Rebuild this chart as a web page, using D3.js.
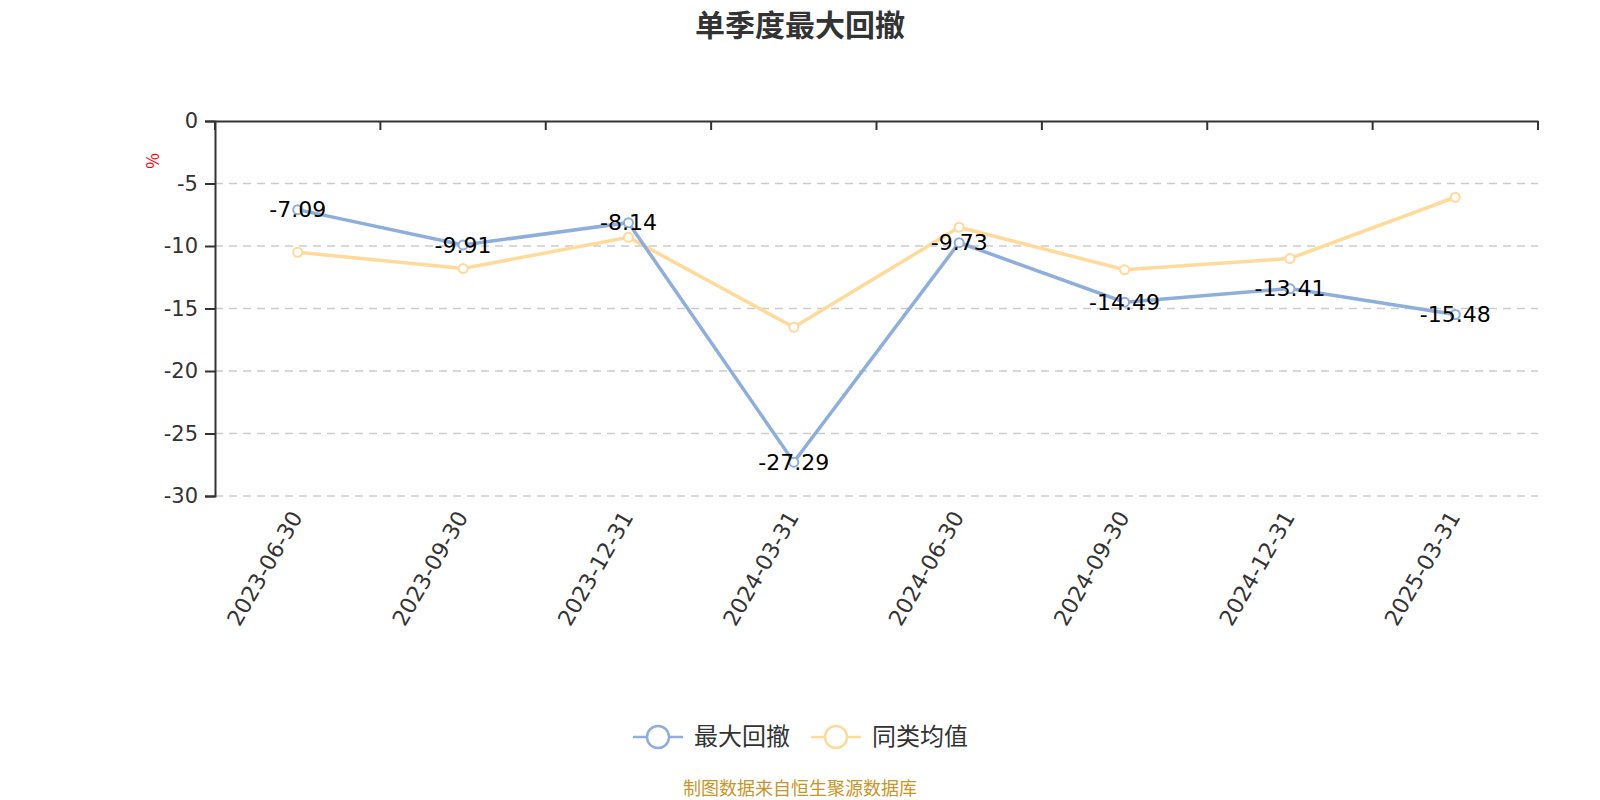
<!DOCTYPE html>
<html>
<head>
<meta charset="utf-8">
<script src="https://cdn.jsdelivr.net/npm/d3@7"></script>
<style>
  body { margin: 0; background: #fff; }
  text { font-family: "Noto Sans CJK SC", "Noto Sans", sans-serif; }
  text.num { font-family: "DejaVu Sans", sans-serif; }
</style>
</head>
<body>
<div id="chart"></div>
<script>
var quarters = ["2023-06-30", "2023-09-30", "2023-12-31", "2024-03-31", "2024-06-30", "2024-09-30", "2024-12-31", "2025-03-31"];
var maxDrawdown = [-7.09, -9.91, -8.14, -27.29, -9.73, -14.49, -13.41, -15.48];
var peerAverage = [-10.5, -11.8, -9.3, -16.5, -8.5, -11.9, -11.0, -6.1];
var yTicks = [0, -5, -10, -15, -20, -25, -30];

var seriesList = [
  { name: "最大回撤", values: maxDrawdown, color: "#8eaedc" },
  { name: "同类均值", values: peerAverage, color: "#ffda9a" }
];

var width = 1600, height = 800;
var plotLeft = 215, plotRight = 1538, plotTop = 121, plotBottom = 496;

var svg = d3.select("#chart").append("svg")
            .attr("width", width)
            .attr("height", height);

var x = d3.scaleBand().domain(quarters).range([plotLeft, plotRight]);
var y = d3.scaleLinear().domain([-30, 0]).range([plotBottom, plotTop]);

// title
svg.append("text")
   .attr("x", 800).attr("y", 36)
   .attr("text-anchor", "middle")
   .style("font-size", "30px").style("font-weight", "bold")
   .style("fill", "#333")
   .text("单季度最大回撤");

// gridlines
svg.selectAll("line.grid")
   .data(yTicks.filter(function (d) { return d !== 0; }))
   .enter().append("line")
   .attr("class", "grid")
   .attr("x1", plotLeft).attr("x2", plotRight)
   .attr("y1", function (d) { return y(d); })
   .attr("y2", function (d) { return y(d); })
   .style("stroke", "#ccc").style("stroke-width", 1.5)
   .style("stroke-dasharray", "8,6");

// y axis
var yAxis = svg.append("g")
   .attr("transform", "translate(" + plotLeft + ",0)")
   .call(d3.axisLeft(y).tickValues(yTicks).tickSize(10).tickPadding(7)
           .tickFormat(function (d) { return String(d); }));
yAxis.select(".domain").style("stroke", "#333").style("stroke-width", 2);
yAxis.selectAll(".tick line").style("stroke", "#333").style("stroke-width", 2);
yAxis.selectAll(".tick text").attr("class", "num").style("font-size", "21px").style("fill", "#333");

// top x axis line with ticks pointing in
var xAxis = svg.append("g")
   .attr("transform", "translate(0," + plotTop + ")")
   .call(d3.axisBottom(x).tickSize(0).tickFormat(""));
xAxis.select(".domain").style("stroke", "#333").style("stroke-width", 2);
var bounds = quarters.map(function (q) { return x(q); }).concat([plotRight]);
xAxis.selectAll("line.bnd")
   .data(bounds)
   .enter().append("line")
   .attr("class", "bnd")
   .attr("x1", function (d) { return d; }).attr("x2", function (d) { return d; })
   .attr("y1", 0).attr("y2", 9)
   .style("stroke", "#333").style("stroke-width", 2);

// x labels at bottom, rotated
svg.selectAll("text.xlab")
   .data(quarters)
   .enter().append("text")
   .attr("class", "xlab num")
   .attr("transform", function (d) {
     return "translate(" + (x(d) + x.bandwidth() / 2 - 1) + "," + (plotBottom + 17) + ") rotate(-60)";
   })
   .attr("text-anchor", "end")
   .attr("dy", "0.35em")
   .style("font-size", "22px").style("fill", "#333")
   .text(function (d) { return d; });

// unit label
svg.append("text")
   .attr("transform", "translate(153,161) rotate(-90)")
   .attr("text-anchor", "middle")
   .attr("dy", "0.35em")
   .style("font-size", "17px").style("fill", "red")
   .text("%");

var line = d3.line()
   .x(function (d, i) { return x(quarters[i]) + x.bandwidth() / 2; })
   .y(function (d) { return y(d); });

// draw yellow first so blue is above
seriesList.slice().reverse().forEach(function (s) {
  svg.append("path")
     .datum(s.values)
     .attr("d", line)
     .style("fill", "none")
     .style("stroke", s.color)
     .style("stroke-width", 3.5);
  svg.selectAll(null)
     .data(s.values)
     .enter().append("circle")
     .attr("cx", function (d, i) { return x(quarters[i]) + x.bandwidth() / 2; })
     .attr("cy", function (d) { return y(d); })
     .attr("r", 4.5)
     .style("fill", "#fff")
     .style("stroke", s.color)
     .style("stroke-width", 2);
});

// data labels
svg.selectAll("text.vlab")
   .data(maxDrawdown)
   .enter().append("text")
   .attr("class", "vlab num")
   .attr("x", function (d, i) { return x(quarters[i]) + x.bandwidth() / 2; })
   .attr("y", function (d) { return y(d); })
   .attr("dy", "0.35em")
   .attr("text-anchor", "middle")
   .style("font-size", "22px").style("fill", "#000")
   .text(function (d) { return d.toFixed(2); });

// legend
var legend = svg.selectAll("g.leg")
   .data(seriesList)
   .enter().append("g")
   .attr("class", "leg")
   .attr("transform", function (d, i) { return "translate(" + (633 + i * 178) + ",737)"; });
legend.append("line")
   .attr("x1", 0).attr("x2", 50)
   .style("stroke", function (d) { return d.color; })
   .style("stroke-width", 2.5);
legend.append("circle")
   .attr("cx", 25).attr("r", 11)
   .style("fill", "#fff")
   .style("stroke", function (d) { return d.color; })
   .style("stroke-width", 2.5);
legend.append("text")
   .attr("x", 61).attr("dy", "0.35em")
   .style("font-size", "24px").style("fill", "#333")
   .text(function (d) { return d.name; });

// source
svg.append("text")
   .attr("x", 800).attr("y", 789)
   .attr("dy", "0.35em")
   .attr("text-anchor", "middle")
   .style("font-size", "18px").style("fill", "#c8952a")
   .text("制图数据来自恒生聚源数据库");
</script>
</body>
</html>
